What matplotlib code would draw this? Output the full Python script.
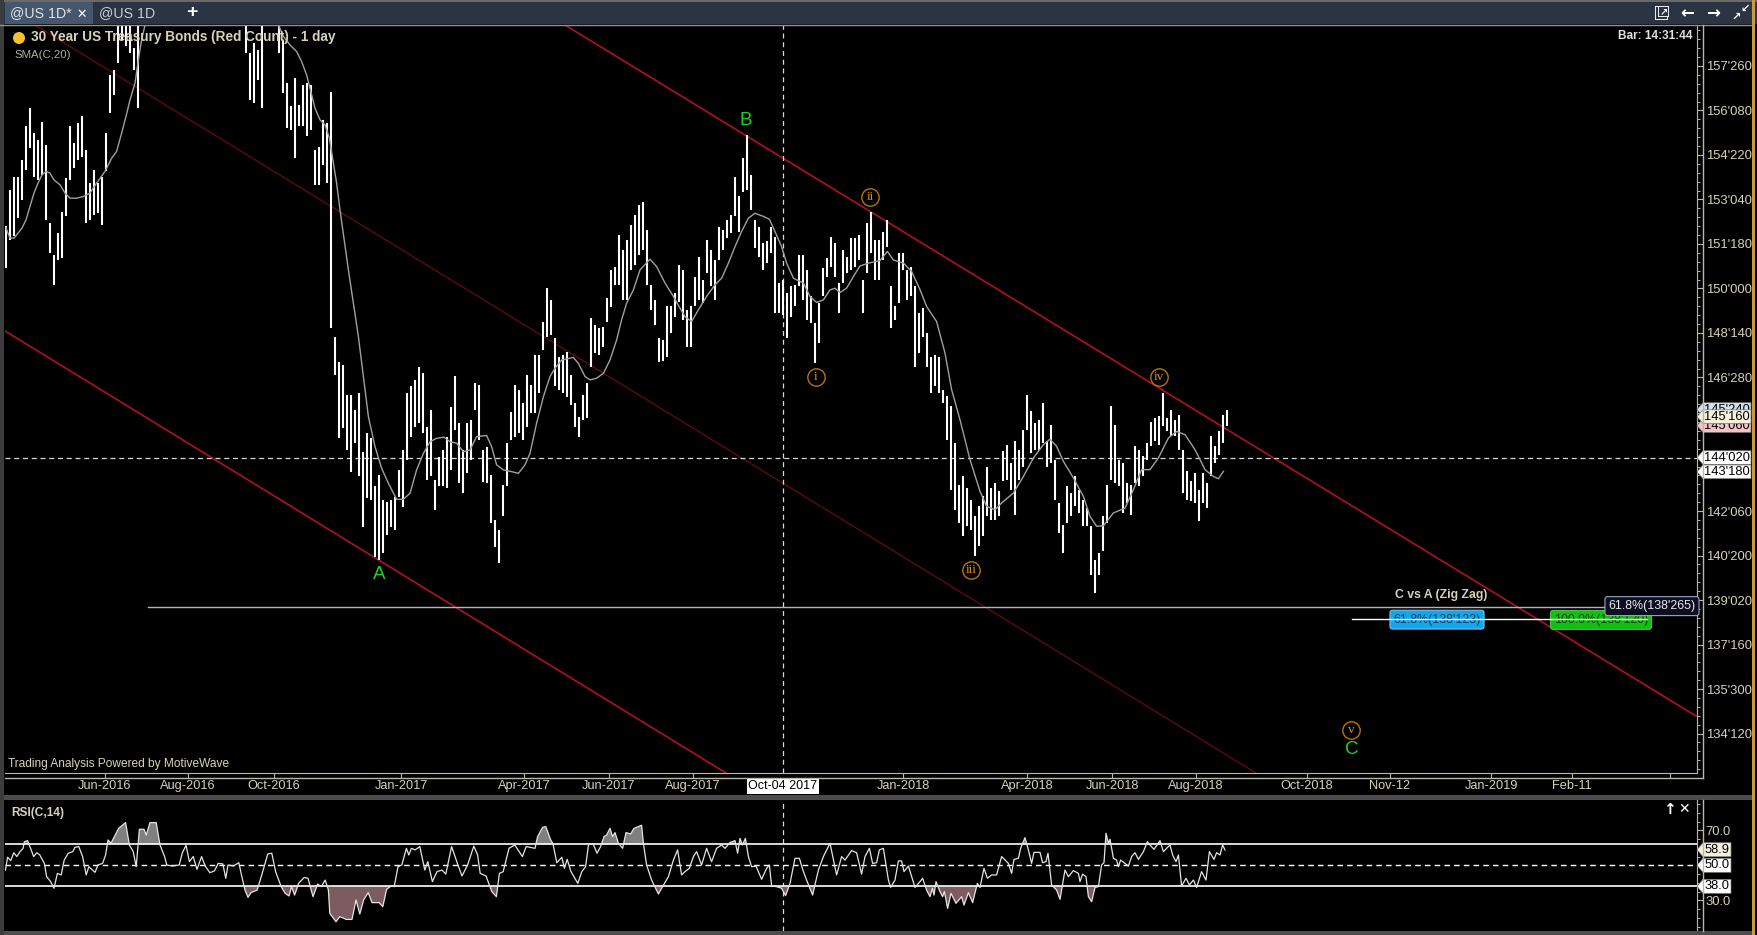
import matplotlib
matplotlib.use('Agg')
import matplotlib.pyplot as plt
import numpy as np
from matplotlib.lines import Line2D
from matplotlib.patches import Rectangle, Polygon, Ellipse

W, H = 1757, 935
TXT = '#d6d2ba'
plt.rcParams['font.family'] = ['Liberation Sans', 'DejaVu Sans']

# price bars. x is a trading day number, every second day drawn.
# the stretches where price ran off the top of the window are left out
start_a = 0.5
high_a = [152.18, 153.46, 153.93, 153.93, 154.52, 155.69, 156.33, 155.45, 155.22, 155.86, 155.04,
          152.29, 151.18, 151.94, 152.70, 153.87, 155.69, 155.10, 155.80, 156.04, 154.87, 153.70,
          154.17, 153.70, 153.93, 155.45, 157.50, 157.68, 160.0, 160.0, 160.0, 160.0, 158.44, 160.0]
low_a = [150.71, 151.71, 151.83, 152.47, 153.11, 154.17, 154.93, 153.93, 153.81, 153.99, 152.41,
         151.24, 150.13, 151.0, 151.06, 152.53, 153.81, 154.22, 154.52, 154.63, 152.29, 152.41,
         152.59, 152.64, 152.23, 154.11, 156.15, 156.80, 157.91, 158.73, 158.5, 158.26, 157.68, 156.33]

start_b = 120.5
high_b = [160.0, 158.26, 158.61, 158.38, 160.0]
low_b = [158.26, 156.62, 156.5, 157.32, 156.33]

start_c = 137.15
high_c = [160.0, 158.73, 157.21, 156.39, 157.38, 156.45, 157.15, 157.21, 157.15, 154.87, 154.98, 155.92,
          155.80, 156.91,
          148.31, 147.43, 147.32, 146.26, 146.26, 145.74, 146.32, 144.27, 144.92, 144.74, 143.05, 143.45,
          142.58, 142.52, 142.58, 142.69, 143.63, 144.33, 146.32, 146.56, 146.79, 147.26, 147.02, 145.15,
          145.74, 143.28, 144.10, 144.33, 144.80, 145.85, 146.91, 145.27, 144.33, 145.27, 145.39, 146.67,
          146.61, 144.33, 144.45, 143.45, 141.88, 141.52, 143.10, 144.57, 145.68, 146.61, 146.44, 145.97,
          146.96, 146.61, 147.67, 147.67, 148.84, 150.01, 149.60, 148.25, 147.61, 147.67, 147.78, 146.96,
          145.97, 145.50, 146.26, 146.67, 148.95, 148.72, 148.60, 148.66, 149.66, 150.65, 150.77,
          151.88, 151.36, 151.71, 152.23, 152.58, 152.93, 153.04, 152.06, 150.13, 149.60, 148.27,
          148.20, 149.37, 149.37, 149.83, 150.83, 150.65, 149.25, 149.37, 150.42, 151.12, 150.30, 151.71,
          151.35, 151.00, 152.17, 152.06, 152.41, 152.58, 153.93, 153.23, 154.57, 155.39, 153.99, 152.41,
          152.17, 151.59, 151.65, 152.17, 151.82, 150.19, 150.30, 149.83, 150.07, 150.13, 151.18, 151.18,
          150.65, 149.72, 148.78, 149.48, 150.71, 151.06, 151.82, 151.59, 150.19, 151.35, 151.12, 151.76,
          151.76, 151.88, 150.30, 152.29, 152.70, 151.71, 151.71, 152.00, 152.41, 150.07, 149.37, 151.24,
          151.24, 150.65, 150.77, 150.07, 149.13, 149.31, 148.43, 147.61, 147.67, 147.61, 146.44,
          146.21, 145.86, 144.57, 143.11, 143.40, 143.00, 142.59, 142.00, 142.35, 142.70, 143.75, 143.00,
          143.17, 142.88, 144.28, 144.52, 143.87, 144.63, 144.34, 145.04, 146.27, 145.69, 145.28, 145.39,
          145.98, 144.63, 145.22, 143.99, 142.47, 141.71, 143.05, 142.82, 143.40, 142.94, 142.59, 142.29,
          141.65, 140.48, 140.71, 142.00, 143.11, 145.86, 145.22, 143.99, 143.87, 143.17, 143.11, 144.46,
          144.34, 144.11, 144.57, 145.33, 145.45, 145.51, 146.33, 145.45, 145.74, 145.39, 145.57, 144.34,
          143.58, 143.23, 143.52, 142.94, 143.52, 143.17, 144.81, 144.46, 144.98, 145.57, 145.74]
low_c = [158.26, 156.86, 155.63, 155.57, 154.57, 155.69, 155.69, 155.34, 155.57, 153.64, 153.64, 154.34,
         153.70, 148.62,
         146.96, 144.74, 145.09, 144.33, 143.57, 144.57, 143.40, 141.64, 142.64, 142.58, 140.59, 140.47,
         140.70, 141.35, 141.64, 141.52, 142.69, 142.34, 143.98, 144.80, 145.15, 145.27, 144.92, 143.28,
         143.40, 142.23, 143.05, 143.05, 142.99, 143.63, 145.03, 143.16, 142.81, 143.51, 143.98, 145.74,
         144.68, 143.22, 143.16, 141.76, 140.94, 140.35, 142.00, 143.05, 144.68, 144.80, 144.92, 144.68,
         145.15, 145.62, 145.62, 146.32, 147.84, 148.31, 148.37, 146.56, 146.44, 146.32, 146.20, 145.91,
         145.15, 144.80, 145.39, 145.44, 147.26, 147.73, 147.67, 147.96, 148.84, 149.36, 150.12,
         150.13, 149.60, 149.60, 150.65, 150.83, 151.18, 151.35, 150.13, 149.25, 148.72, 147.42,
         147.44, 147.61, 148.43, 149.00, 149.54, 148.90, 147.96, 147.96, 149.37, 149.60, 149.48, 150.54,
         150.07, 149.60, 151.00, 151.35, 151.76, 151.94, 152.53, 152.00, 153.40, 153.46, 152.76, 151.41,
         151.12, 150.65, 150.89, 151.24, 149.13, 149.13, 149.07, 148.25, 149.00, 149.37, 150.07, 149.60,
         148.90, 148.78, 147.38, 148.08, 149.72, 150.42, 150.77, 150.42, 149.13, 150.19, 150.54, 150.65,
         150.77, 151.00, 149.13, 150.54, 151.24, 150.30, 150.30, 151.00, 151.47, 148.61, 148.90, 149.48,
         150.65, 149.60, 149.72, 147.26, 147.73, 148.31, 147.26, 146.32, 146.56, 146.32, 145.97,
         144.69, 142.94, 142.23, 141.77, 141.30, 141.65, 141.53, 140.60, 140.95, 141.30, 142.00, 141.88,
         141.88, 142.00, 143.23, 143.29, 142.94, 142.06, 143.29, 143.75, 145.04, 144.22, 144.34, 144.34,
         144.57, 143.75, 143.87, 142.59, 141.42, 140.71, 141.77, 142.00, 142.35, 142.12, 141.65, 141.65,
         139.95, 139.31, 139.95, 140.77, 141.77, 143.29, 143.17, 143.05, 142.12, 142.47, 142.06, 143.17,
         143.05, 143.40, 143.99, 144.46, 144.63, 144.52, 145.16, 144.98, 144.81, 144.81, 144.34, 142.82,
         142.59, 142.53, 142.47, 141.82, 142.47, 142.29, 143.40, 143.87, 144.16, 144.57, 145.16]

# SMA(C,20), two pieces because it leaves the window too
sma_day_a = [0.5, 2.5, 4.5, 6.5, 8.5, 10.5, 12.5, 14.5, 16.5, 18.5, 20.5, 22.5, 24.5, 27.5, 30, 32.5, 35.8, 39.2,
             42.5, 45.8, 50, 53.3, 55.8, 58.3, 60.5, 62.5, 65, 66.7, 68.3, 70, 71.7]
sma_val_a = [152.12, 151.77, 151.77, 151.94, 152.12, 152.41, 152.88, 153.35, 153.70, 153.99, 154.11, 154.05,
             153.81, 153.64, 153.35, 153.17, 153.17, 153.23, 153.35, 153.70, 154.11, 154.57, 154.81, 155.45,
             156.04, 156.62, 157.21, 158.03, 158.73, 159.25, 159.80]
sma_day_b = [136.7, 139.2, 142.5, 145.8, 148.3, 150.8, 152.5, 155, 157.5, 160, 162.2, 164.2, 165.8, 167.5,
             171.7, 174.2, 176.7, 179.2, 181.7, 185, 188.3, 191.7, 195.8, 199.2, 202.5, 205.8, 209.2, 212.5,
             215.8, 219.5, 222.5, 225.8, 229.2, 232.5, 235.8, 240.8, 243.3, 245.8, 249.2, 253.3, 256.7, 260,
             262.5, 265.8, 269.2, 272.5, 275, 278.3, 284.2, 286.7, 290, 292.5, 295.8, 299.2, 302.5, 305.8,
             308.3, 310.8, 314.2, 317.5,
             322.5, 325.8, 330, 334.2, 337.5, 340, 343.3, 346.7, 350.8, 355, 358.3, 361.7, 365, 368.3, 371.7,
             375, 379.2, 382.2, 385, 388.3, 390.8, 394.2, 399.2, 402.5, 405.8, 409.2, 412.5, 415, 417.5, 420.8,
             424.2, 427.5, 431.7, 437.5, 441.2, 444.2,
             449.2, 453.3, 457.5, 460.8, 465.8, 470, 473.3, 477.5, 482.5, 487.5, 490.8, 495, 498.3, 504.2,
             509.2, 514.2, 519.2, 522.5, 525.8, 529.2, 534.2, 539.2, 542.5, 545.8, 549.2, 554.2, 560, 564.2,
             568.3, 572.5, 576.7, 581.7, 585.8, 590, 595, 600, 604.2, 606.7, 609.2]
sma_val_b = [159.25, 158.85, 158.55, 158.32, 157.97, 157.50, 157.03, 156.33, 155.92, 155.74, 155.28, 154.40,
             153.70, 152.76,
             150.65, 149.48, 148.31, 146.91, 145.50, 144.45, 143.69, 143.16, 142.60, 142.60, 142.81, 143.63,
             144.21, 144.62, 144.74, 144.78, 144.62, 144.57, 144.27, 144.33, 144.80, 144.84, 144.45, 143.81,
             143.63, 143.57, 143.51, 143.81, 144.21, 145.27, 146.20, 146.91, 147.20, 147.49, 147.58, 147.37,
             146.91, 146.79, 146.85, 147.02, 147.49, 148.19, 148.90, 149.48, 149.95, 150.65,
             151.03, 150.77, 150.19, 149.72, 149.31, 149.01, 148.84, 149.25, 149.72, 150.13, 150.36, 150.89,
             151.47, 152.00, 152.47, 152.64, 152.53, 152.43, 152.00, 151.47, 150.89, 150.36, 150.19, 149.72,
             149.51, 149.60, 149.95, 150.01, 149.86, 150.01, 150.42, 150.79, 150.89, 150.98, 151.30, 151.00,
             150.89, 150.60, 149.96, 149.37, 148.84, 147.73, 146.45, 145.39, 143.99, 142.88, 142.35, 142.23,
             142.47, 142.82, 143.40, 144.05, 144.52, 144.71, 144.46, 143.93, 143.35, 142.70, 142.00, 141.65,
             141.67, 142.12, 142.29, 142.94, 143.64, 143.64, 144.05, 144.75, 144.98, 144.87, 144.34, 143.64,
             143.40, 143.32, 143.58]

# RSI(C,14)
rsi_day = [0.2, 1.3, 2.9, 4.4, 5.9, 7.5, 9.0, 9.7, 11.3, 12.8, 14.3, 15.9, 17.4, 19.7, 20.8, 22.8, 24.5, 26.2,
           28.1, 29.6, 31.6, 33.9, 35.0, 36.9, 38.8, 40.6, 41.9, 45.0, 46.5, 48.8, 50.3, 51.5, 53.0, 56.8, 60.3,
           62.2, 64.1, 65.6, 67.2, 69.5, 70.6, 72.5, 75.6, 77.5, 79.8, 80.9, 83.6, 87.1, 88.6, 90.5, 92.2, 94.1,
           96.0, 98.3, 100.1, 102.4, 104.7, 106.6, 108.9, 110.4, 111.5, 114.2, 116.9, 118.8, 120.0, 121.5, 123.0,
           126.1, 128.6, 131.4, 133.4, 135.3, 138.1, 140.1, 142.0, 143.3, 144.8, 146.8, 149.6, 151.5, 154.0,
           156.3, 158.2, 160.1, 161.7, 162.4, 165.5, 167.4, 170.7, 173.5, 175.5, 177.4, 179.3, 181.6, 183.5,
           187.0, 188.9, 190.8, 193.1, 194.6, 196.5, 198.4, 200.7, 201.9, 203.2, 205.1, 207.4, 209.9, 211.4,
           213.7, 216.0, 218.5, 220.4, 223.3, 226.2, 228.5, 231.3, 234.4, 236.3, 237.6, 240.5, 243.4, 245.7,
           247.2, 249.1, 252.0, 254.9, 258.7, 260.6, 265.0, 266.3, 268.8, 270.4, 272.7, 274.0, 275.9, 278.4,
           279.7, 281.1, 283.0, 286.4, 288.4, 290.3, 291.8, 294.1, 296.0,
           297.8, 299.5, 300.8, 302.5, 303.8, 305, 306.7, 308.8, 310.5, 312.8, 314.5, 318.3, 319.2, 320.8,
           323.3, 326.7, 328.3, 331.7, 334.2, 336.3, 338.3, 340, 342.2, 344.2, 345.8, 348.3, 350.8, 353.3,
           355.8, 358.3, 360, 362.5, 365, 366.3, 367.5, 368.7, 370.2, 371.7, 373.3, 375.5, 378.3, 380.8, 382.2,
           383.3, 385.8, 388.3, 390.3, 392.5, 395, 397.2, 399.2, 400.8, 403.8, 406.7, 409.2, 412.5, 415.8,
           418.3, 420, 423.3, 425.8, 428.3, 430, 432.2, 433.8, 435.8, 437.2, 439.2, 441.7, 442.8, 445, 446.7,
           448.3, 449.5, 451.7, 455, 457.5,
           458.8, 460.8, 462.5, 463.7, 464.5, 465.5, 467.5, 468.8, 469.7, 471.3, 473, 475.5, 478.3, 479.5,
           481.7, 483.8, 486.2, 487.5, 489.5, 491.2, 493.3, 495.8, 498.3, 501.7, 503.3, 504.5, 506.7, 507.8,
           510, 511.7, 513.3, 514.5, 517.5, 518.8, 520.5, 521.5, 523.3, 525.8, 527.5, 530, 531.7, 534.2, 536.7,
           537.5, 538.8, 540.5, 541.7, 543.3, 545, 546.7, 548.3, 549.5, 550.5, 551.7, 552.5, 554.2, 555.8,
           556.7, 557.8, 560, 561.7, 563.3, 565, 566.7, 569.2, 571.2, 572.5, 574.5, 577.5, 579.2, 580.8, 582.5,
           583.8, 585.5, 586.7, 588.3, 590.5, 592.2, 594.2, 595.8, 598.3, 600.5, 602.2, 604.5, 605.8, 607.5,
           608.8, 610]
rsi_val = [47.3, 54.6, 52.7, 57.2, 55.0, 57.8, 59.7, 63.5, 64.1, 59.7, 55.0, 57.2, 55.9, 51.1, 43.5, 40.7, 36.9, 45.4,
           44.5, 53.0, 56.9, 57.8, 60.3, 60.7, 55.0, 44.5, 49.2, 46.0, 50.2, 51.1, 55.9, 64.5, 62.6, 71.1, 74.4,
           61.6, 57.8, 49.2, 70.6, 70.6, 67.3, 74.4, 74.4, 61.6, 55.0, 50.2, 49.6, 50.2, 56.9, 61.4, 52.1, 55.0,
           47.7, 55.0, 49.6, 45.8, 46.8, 51.1, 50.8, 42.6, 50.2, 49.6, 51.5, 41.6, 35.9, 31.7, 34.4,
           35.9, 45.4, 56.5, 56.9, 46.4, 37.8, 34.0, 32.5, 37.8, 33.0, 39.7, 43.1, 42.6, 32.1,
           39.3, 37.8, 41.6, 35.9, 22.6, 17.8, 20.7, 19.1, 19.1, 30.2, 22.2, 30.2, 34.4, 28.7,
           28.7, 26.4, 36.3, 38.2, 37.8, 49.2, 50.2, 59.7, 55.9, 59.7, 58.8, 60.7, 47.3, 52.1,
           40.7, 46.4, 47.3, 45.0, 60.7, 51.1, 43.9, 50.2, 61.0, 55.9, 45.4, 43.9, 35.0, 32.1,
           45.4, 46.4, 59.7, 61.6, 55.0, 60.7, 59.7, 66.4, 71.7, 72.1, 64.9, 62.2, 51.5, 54.6,
           48.3, 53.4, 46.4, 39.7, 46.4, 49.2, 62.2, 62.2, 56.9,
           60.7, 66.4, 67.3, 71.1, 66.4, 68.7, 62.6, 59.7, 68.7, 67.9, 71.1, 72.9, 62.6, 50.2,
           41.6, 33.6, 36.9, 43.5, 53.0, 58.8, 44.5, 46.4, 48.3, 55.0, 57.8, 50.2, 59.7, 52.1,
           59.7, 61.6, 59.7, 63.0, 64.1, 56.9, 65.4, 61.6, 65.4, 55.0, 49.2, 49.6, 42.0, 48.3, 50.2,
           38.2, 37.8, 36.9, 32.7, 39.7, 54.0, 54.0, 46.4, 41.6, 33.0, 47.3, 55.0, 62.6, 44.5,
           55.0, 53.0, 58.4, 57.2, 45.0, 55.0, 59.7, 51.1, 51.5, 58.8, 59.7, 41.6, 37.4, 41.6, 52.5,
           52.5, 46.4, 49.6, 37.4, 40.7,
           42.6, 35.9, 32.1, 36.9, 33.0, 40.7, 35.0, 32.1, 35.0, 25.4, 34.0, 28.3, 32.1, 27.3,
           34.4, 28.7, 39.7, 37.4, 48.3, 42.6, 44.5, 44.5, 55.0, 51.1, 45.4, 53.4, 54.0, 59.7,
           65.8, 58.8, 51.1, 57.4, 57.4, 51.5, 52.1, 56.9, 38.8, 35.9, 30.6, 47.3, 43.5, 47.0, 45.4,
           40.7, 45.0, 43.5, 32.1, 29.2, 37.4, 37.8, 50.2, 51.5, 68.3, 62.6, 64.9, 54.0, 53.0,
           49.2, 53.0, 51.1, 49.6, 55.0, 57.2, 53.4, 57.8, 63.5, 61.6, 59.1, 64.1, 57.8, 59.7, 61.6,
           55.9, 52.1, 55.9, 38.2, 42.6, 38.8, 41.6, 37.4, 46.4, 41.6, 57.8, 53.4, 57.2, 55.9,
           61.6, 58.8]

# channel lines, two anchor points each (trading day, price)
upper_days, upper_prices = [280, 845.5], [159.25, 134.99]
middle_days, middle_prices = [15, 625.5], [159.25, 132.99]
lower_days, lower_prices = [0, 360.5], [148.51, 132.99]

price_ticks = ["157'260", "156'080", "154'220", "153'040", "151'180", "150'000", "148'140", "146'280",
               "145'100", "143'240", "142'060", "140'200", "139'020", "137'160", "135'300", "134'120"]
# these two sit under the price flags in the window, no text shows
hidden_ticks = ["145'100", "143'240"]
date_ticks = [49.75, 91.5, 134.5, 198, 259.5, 302, 344, 449, 511, 553.5, 595.5, 651, 692.5, 743, 783.5, 832.5]
date_labels = ['Jun-2016', 'Aug-2016', 'Oct-2016', 'Jan-2017', 'Apr-2017', 'Jun-2017', 'Aug-2017', 'Jan-2018',
               'Apr-2018', 'Jun-2018', 'Aug-2018', 'Oct-2018', 'Nov-12', 'Jan-2019', 'Feb-11', '']


def quote(s):
    # 157'260 -> 157 + 26.0/32
    a, b = s.split("'")
    return int(a) + int(b) / 320.0


def fx(x):
    return x / W


def fy(y):
    return 1 - y / H


def frame(x0, y0, x1, y1, color):
    fig.add_artist(Rectangle((fx(x0), fy(y1)), (x1 - x0) / W, (y1 - y0) / H, fc=color, ec='none',
                             transform=fig.transFigure, zorder=5))


def hline(x0, x1, y, color, lw=1.0):
    fig.add_artist(Line2D([fx(x0), fx(x1)], [fy(y), fy(y)], color=color, lw=lw, zorder=6))


def vline(x, y0, y1, color, lw=1.0):
    fig.add_artist(Line2D([fx(x), fx(x)], [fy(y0), fy(y1)], color=color, lw=lw, zorder=6))


def flag(ax, label, value, color, half, width=54, z=8):
    # price flag sitting on the right axis
    tr = ax.get_yaxis_transform()
    w = 1692.0
    pts = [(1.0, value), (1 + 6 / w, value + half), (1 + width / w, value + half),
           (1 + width / w, value - half), (1 + 6 / w, value - half)]
    ax.add_patch(Polygon(pts, closed=True, fc=color, ec='#777777', lw=0.5, transform=tr, clip_on=False, zorder=z))
    ax.text(1 + (width + 6) / 2 / w, value, label, transform=tr, color='black', fontsize=9.3, ha='center', va='center',
            clip_on=False, zorder=z)


fig = plt.figure(figsize=(W / 100, H / 100), dpi=100, facecolor='black')

ax = fig.add_axes([fx(5), fy(773), 1692 / W, 748 / H], facecolor='black')
ax2 = fig.add_axes([fx(5), fy(931), 1692 / W, 131 / H], facecolor='black')

# main pane
ax.plot(upper_days, upper_prices, color='#b01022', lw=1.2, zorder=2)
ax.plot(lower_days, lower_prices, color='#b01022', lw=1.2, zorder=2)
ax.plot(middle_days, middle_prices, color='#640c12', lw=0.9, zorder=2)

for start, hi, lo in [(start_a, high_a, low_a), (start_b, high_b, low_b), (start_c, high_c, low_c)]:
    days = start + 2 * np.arange(len(hi))
    ax.vlines(days, lo, hi, color='white', lw=1.5, zorder=3)

ax.plot(sma_day_a, sma_val_a, color='#a0a0a0', lw=1.0, zorder=4)
ax.plot(sma_day_b, sma_val_b, color='#a0a0a0', lw=1.0, zorder=4)

# crosshair
ax.axhline(quote("144'020"), color='#d8d8d8', lw=0.9, ls=(0, (4, 3)), zorder=2)
ax.axvline(389, color='#d8d8d8', lw=0.9, ls=(0, (4, 3)), zorder=2)
ax2.axvline(389, color='#d8d8d8', lw=0.9, ls=(0, (4, 3)), zorder=2)

# fib lines
ax.plot([71.5, 846], [quote("138'265")] * 2, color='#a9b3d6', lw=1.0, zorder=2)
ax.plot([673.5, 821], [quote("138'123")] * 2, color='white', lw=1.0, zorder=7)

# fib boxes
ax.text(716, quote("138'123") - 0.01, "61.8%(138'123)", color='#0b3c5c', fontsize=8.9, ha='center', va='center', zorder=6,
        bbox=dict(boxstyle='round,pad=0.28,rounding_size=0.2', fc='#12a6ea', ec='#9ad6f2', lw=0.6))
ax.text(798, quote("138'120") - 0.01, "100.0%(138'120)", color='#063d06', fontsize=8.9, ha='center', va='center', zorder=6,
        bbox=dict(boxstyle='round,pad=0.28,rounding_size=0.2', fc='#10c010', ec='#60d060', lw=0.6))
ax.text(823.5, quote("138'265") + 0.02, "61.8%(138'265)", color='#e8e8e8', fontsize=8.9, ha='center', va='center', zorder=8,
        bbox=dict(boxstyle='round,pad=0.28,rounding_size=0.2', fc='#0c0f20', ec='#9aa4c8', lw=0.8))
ax.text(718, 139.25, 'C vs A (Zig Zag)', color=TXT, fontsize=8.8, fontweight='bold', ha='center', va='center', zorder=6)

# wave labels
for lab, d, p in [('B', 370.5, 155.9), ('A', 187, 139.95), ('C', 673.5, 133.8)]:
    ax.text(d, p, lab, color='#1fd41f', fontsize=13.5, ha='center', va='center', zorder=6)
for lab, d, p in [('ii', 432.5, 153.2), ('i', 405.5, 146.9), ('iii', 483, 140.1), ('iv', 577, 146.9), ('v', 673, 134.5)]:
    ax.plot([d], [p], 'o', ms=12.5, mfc='none', mec='#b8720f', mew=1.0, zorder=6)
    ax.text(d, p, lab, color='#e08a14', fontsize=9.5, family='Liberation Serif', ha='center', va='center', zorder=6)

ax.set_xlim(0, 846)
ax.set_ylim(132.99, 159.25)
for s in ['left', 'top']:
    ax.spines[s].set_visible(False)
ax.spines['right'].set_color('#b8b8a8')
ax.spines['bottom'].set_color('#b8b8a8')
ax.yaxis.tick_right()
ax.set_yticks([quote(t) for t in price_ticks])
ax.set_yticklabels(['' if t in hidden_ticks else t for t in price_ticks])
ax.set_yticks(np.arange(133.125, 159.25, 0.3125), minor=True)
ax.tick_params(axis='y', which='major', length=4.3, width=0.8, color='#b8b8a8', labelcolor=TXT, labelsize=9.4, pad=2)
ax.tick_params(axis='y', which='minor', length=2.2, width=0.7, color='#b8b8a8')
ax.set_xticks(date_ticks)
ax.set_xticklabels(date_labels)
ax.tick_params(axis='x', length=3.6, width=0.8, color='#b8b8a8', labelcolor=TXT, labelsize=9.2, pad=1.5)

ax.annotate('Oct-04 2017', xy=(389, 0), xycoords=ax.get_xaxis_transform(), xytext=(0, -9.5),
            textcoords='offset points', ha='center', va='center', color='black', fontsize=9.0,
            annotation_clip=False, zorder=9, bbox=dict(boxstyle='square,pad=0.15', fc='white', ec='none'))

# price flags
flag(ax, "145'240", quote("145'240"), '#cfe2f2', 0.24, z=8)
flag(ax, "145'060", quote("145'060"), '#f2c4c4', 0.24, z=8)
flag(ax, "145'160", quote("145'160"), '#f5efdc', 0.24, z=9)
flag(ax, "144'020", quote("144'020"), 'white', 0.24)
flag(ax, "143'180", quote("143'180"), 'white', 0.24)

# RSI pane
rsi_day = np.array(rsi_day)
rsi_val = np.array(rsi_val)
ax2.fill_between(rsi_day, 62, rsi_val, where=rsi_val > 62, interpolate=True, color='#808080', lw=0, zorder=2)
ax2.fill_between(rsi_day, 38, rsi_val, where=rsi_val < 38, interpolate=True, color='#7c5c60', lw=0, zorder=2)
ax2.axhline(62, color='white', lw=1.2, zorder=3)
ax2.axhline(38, color='white', lw=1.2, zorder=3)
ax2.axhline(50, color='white', lw=1.0, ls=(0, (4, 3)), zorder=3)
ax2.plot(rsi_day, rsi_val, color='#e4e4e4', lw=0.9, zorder=4)
ax2.set_xlim(0, 846)
ax2.set_ylim(12.5, 87.3)
for s in ['left', 'top', 'bottom']:
    ax2.spines[s].set_visible(False)
ax2.spines['right'].set_color('#b8b8a8')
ax2.set_xticks([])
ax2.yaxis.tick_right()
ax2.set_yticks([70, 30])
ax2.set_yticklabels(['70.0', '30.0'])
ax2.set_yticks(np.arange(15, 87, 5), minor=True)
ax2.tick_params(axis='y', which='major', length=4.3, width=0.8, color='#b8b8a8', labelcolor=TXT, labelsize=9.4, pad=2)
ax2.tick_params(axis='y', which='minor', length=2.2, width=0.7, color='#b8b8a8')
flag(ax2, '58.9', 58.9, '#f5efdc', 4.0, width=34, z=8)
flag(ax2, '50.0', 50, 'white', 4.0, width=34)
flag(ax2, '38.0', 38, 'white', 4.0, width=34)

# window chrome
frame(0, 0, W, 24, '#2a3442')
frame(0, 0, W, 2, '#6a6a6a')
frame(5, 2, 93, 24, '#46566c')
hline(0, 1752, 24.5, '#8c929a', 1.0)
frame(0, 0, 4, H, '#3c3c3c')
frame(1752, 0, 1755, H, '#c89a42')
frame(4, 795, 1752, 800, '#4c4c4c')
frame(4, 931, 1752, H, '#4c4c4c')
hline(5, 1703, 778, '#b8b8a8', 1.0)
vline(1703, 25, 778, '#b8b8a8', 1.0)
vline(1703, 800, 931, '#b8b8a8', 1.0)


def label(x, y, s, **kw):
    fig.text(fx(x), fy(y), s, va='center', zorder=10, **kw)


label(10, 13, '@US 1D*', color='#e0e4e8', fontsize=10.2)
label(76, 14, '✕', color='white', fontsize=9, family='DejaVu Sans', fontweight='bold')
label(99, 13, '@US 1D', color='#c8ccd2', fontsize=10.2)
label(186, 13, '+', color='white', fontsize=14, fontweight='bold')
# the pop-out icon has no glyph in the installed fonts, two small squares instead
frame(1655, 6, 1668, 20, '#e8e8e8')
frame(1656, 7, 1667, 19, '#2a3442')
frame(1658, 6, 1669, 17, '#e8e8e8')
frame(1659, 7, 1668, 16, '#2a3442')
label(1660, 12, '↗', color='white', fontsize=7, family='DejaVu Sans', fontweight='bold')
label(1680, 13, '←', color='white', fontsize=12, family='DejaVu Sans', fontweight='bold')
label(1706, 13, '→', color='white', fontsize=12, family='DejaVu Sans', fontweight='bold')
label(1731, 17, '↗', color='white', fontsize=8, family='DejaVu Sans', fontweight='bold')
label(1740, 9, '↙', color='white', fontsize=8, family='DejaVu Sans', fontweight='bold')

fig.add_artist(Ellipse((fx(19), fy(38)), 12 / W, 12 / H, fc='#f6c22f', ec='none', transform=fig.transFigure, zorder=10))
label(31, 37.5, '30 Year US Treasury Bonds (Red Count) - 1 day', color=TXT, fontsize=9.8, fontweight='bold')
label(14, 55, 'SMA(C,20)', color='#aeb0a0', fontsize=8.2)
fig.text(fx(1692), fy(36), 'Bar: 14:31:44', color='#e0e0e0', fontsize=8.6, fontweight='bold', ha='right', va='center', zorder=10)
label(8, 764, 'Trading Analysis Powered by MotiveWave', color=TXT, fontsize=8.6)
label(11, 813, 'RSI(C,14)', color=TXT, fontsize=8.6, fontweight='bold')
label(1663, 809, '↑', color='white', fontsize=11, family='DejaVu Sans', fontweight='bold')
label(1678, 809, '✕', color='white', fontsize=10, family='DejaVu Sans', fontweight='bold')

fig.savefig('out.png', dpi=100, facecolor='black')
